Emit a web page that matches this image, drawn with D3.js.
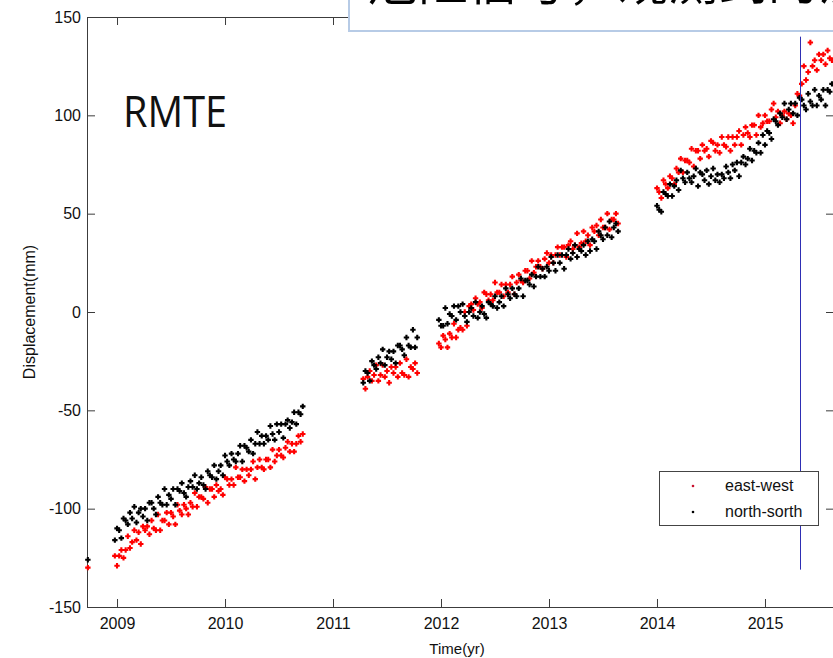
<!DOCTYPE html>
<html>
<head>
<meta charset="utf-8">
<script src="https://cdn.jsdelivr.net/npm/d3@7"></script>
<style>
  body { margin: 0; background: #fff; }
  svg { display: block; font-family: "Liberation Sans", Arial, sans-serif; }
</style>
</head>
<body>
<script>
// start year of each run of daily-ish samples, sample spacing in years
const segStart = [2008.98, 2011.28, 2011.98, 2014.00];
const step = 0.02;

// east-west displacement (mm), one array per run
const ewA = [-124,-129,-124,-121,-125,-121,-114,-120,-117,-111,
  -116,-112,-118,-109,-111,-109,-113,-106,-110,-111,
  -103,-111,-106,-106,-102,-108,-102,-104,-108,-98,
  -101,-103,-98,-100,-103,-97,-99,-92,-99,-94,
  -94,-95,-89,-97,-90,-90,-94,-88,-91,-90,
  -93,-84,-85,-88,-85,-88,-79,-84,-84,-80,
  -86,-80,-83,-80,-76,-85,-79,-75,-79,-80,
  -75,-75,-79,-70,-76,-73,-70,-73,-74,-69,
  -66,-71,-67,-71,-67,-63,-66,-62];
const ewB = [-34,-39,-33,-30,-35,-32,-27,-35,-32,-27,-33,-30,-36,-28,-31,-28,-33,-26,-31,-32,-24,-33,-28,-29,-26,-31];
const ewC = [-16,-18,-12,-14,-18,-11,-13,-6,-13,-9,
  -8,-9,0,-7,3,4,1,7,4,5,
  2,10,9,6,9,6,15,10,10,14,
  8,14,10,14,18,9,15,19,16,15,
  21,21,17,26,20,23,26,23,22,27,
  30,25,29,25,29,33,29,33,33,28,
  34,36,32,34,40,33,35,41,36,39,
  34,43,41,44,39,47,43,43,50,42,
  47,47,50,45];
const ewD = [63,61,58,67,65,63,69,68,65,73,
  71,78,71,77,77,76,83,74,82,82,
  78,85,82,83,79,87,86,82,85,81,
  89,85,84,89,82,89,85,89,92,85,
  90,94,91,89,95,95,90,100,94,96,
  100,97,97,103,106,99,102,96,100,102,
  98,101,100,96,105,111,110,116,125,118,
  122,137,125,128,123,131,128,131,126,133,
  129,128];

// north-south displacement (mm)
const nsA = [-116,-110,-111,-115,-105,-106,-108,-102,-105,-99,
  -107,-102,-100,-104,-100,-106,-97,-97,-100,-103,
  -94,-97,-98,-90,-98,-93,-95,-90,-98,-90,
  -91,-87,-92,-94,-89,-86,-89,-83,-90,-87,
  -84,-88,-90,-81,-83,-84,-78,-85,-81,-78,
  -83,-73,-76,-78,-72,-75,-76,-72,-68,-76,
  -68,-69,-71,-65,-72,-67,-61,-67,-63,-67,
  -63,-65,-58,-62,-65,-57,-61,-57,-64,-57,
  -55,-59,-56,-51,-57,-51,-52,-48];
const nsB = [-36,-30,-31,-35,-25,-27,-29,-23,-26,-19,-27,-23,-20,-24,-20,-26,-17,-17,-19,-22,-13,-17,-18,-9,-18,-13];
const nsC = [-4,-7,-7,2,-6,-1,-2,3,-4,3,
  0,4,-2,-5,0,2,-2,5,-3,0,
  3,-1,-3,5,4,3,8,2,5,8,
  3,12,9,7,12,9,8,12,17,8,
  16,16,14,19,13,18,23,18,22,18,
  23,21,28,25,21,29,25,29,22,29,
  32,27,30,34,28,32,31,34,29,36,
  31,37,36,32,41,39,37,43,39,46,
  38,43,45,41];
const nsD = [54,52,51,61,60,59,65,59,64,67,
  62,72,68,66,71,68,66,69,73,64,
  71,70,67,72,65,69,73,67,70,66,
  70,68,74,71,68,75,72,76,69,76,
  79,75,78,83,77,82,81,86,81,90,
  85,92,91,88,98,97,95,101,99,106,
  98,103,106,101,106,100,109,108,105,103,
  111,107,105,113,105,110,108,113,105,113,
  112,116];

// lone first sample at the left edge
const firstTime = 2008.73;
const ewFirst = -130;
const nsFirst = -126;

const xTicks = [2009, 2010, 2011, 2012, 2013, 2014, 2015];
const yTicks = [-150, -100, -50, 0, 50, 100, 150];
const seriesNames = ["east-west", "north-sorth"];
const seriesColors = ["#ff0000", "#000000"];
const legendDots = ["#c8102e", "#000000"];

// vertical marker line (event time, bottom and top in mm)
const eventTime = 2015.32;
const eventSpan = [-131, 140];

const w = 833, h = 658;
const plotL = 87, plotR = 834, plotT = 17, plotB = 607;

function buildPoints(firstVal, runs) {
  let pts = [{ t: firstTime, v: firstVal }];
  runs.forEach(function (vals, k) {
    vals.forEach(function (v, i) {
      pts.push({ t: segStart[k] + i * step, v: v });
    });
  });
  return pts;
}

const ewPts = buildPoints(ewFirst, [ewA, ewB, ewC, ewD]);
const nsPts = buildPoints(nsFirst, [nsA, nsB, nsC, nsD]);

const svg = d3.select("body")
  .append("svg")
  .attr("width", w)
  .attr("height", h);

const xScale = d3.scaleLinear()
  .domain([2008.722, 2015.639])
  .range([plotL, plotR]);

const yScale = d3.scaleLinear()
  .domain([-150, 150])
  .range([plotB, plotT]);

const axisColor = "#3c3c3c";
const plain = d => String(d);   // keep ascii hyphen for negatives

// axes, ticks pointing inward like matlab
svg.append("g")
  .attr("transform", "translate(0," + plotB + ")")
  .call(d3.axisBottom(xScale).tickValues(xTicks).tickFormat(plain)
    .tickSizeInner(-8).tickSizeOuter(0).tickPadding(11));

svg.append("g")
  .attr("transform", "translate(0," + plotT + ")")
  .call(d3.axisTop(xScale).tickValues(xTicks).tickFormat("")
    .tickSizeInner(-8).tickSizeOuter(0));

svg.append("g")
  .attr("transform", "translate(" + plotL + ",0)")
  .call(d3.axisLeft(yScale).tickValues(yTicks).tickFormat(plain)
    .tickSizeInner(-8).tickSizeOuter(0).tickPadding(6));

svg.append("g")
  .attr("transform", "translate(" + plotR + ",0)")
  .call(d3.axisRight(yScale).tickValues(yTicks).tickFormat("")
    .tickSizeInner(-8).tickSizeOuter(0));

svg.selectAll(".domain").remove();
svg.selectAll(".tick line").attr("stroke", axisColor);
svg.selectAll(".tick text")
  .attr("fill", "#111")
  .style("font-size", "16px");

svg.append("rect")
  .attr("x", plotL + 0.5)
  .attr("y", plotT + 0.5)
  .attr("width", plotR - plotL)
  .attr("height", plotB - plotT)
  .attr("fill", "none")
  .attr("stroke", axisColor);

// axis titles
svg.append("text")
  .attr("x", 457)
  .attr("y", 654)
  .attr("text-anchor", "middle")
  .style("font-size", "15px")
  .attr("fill", "#111")
  .text("Time(yr)");

svg.append("text")
  .attr("transform", "translate(35," + (plotT + plotB) / 2 + ") rotate(-90)")
  .attr("text-anchor", "middle")
  .style("font-size", "16px")
  .attr("fill", "#111")
  .text("Displacement(mm)");

// scatter points, east-west first so north-south sits on top
const cross = "M-2.7,0H2.7M0,-2.7V2.7";
[ewPts, nsPts].forEach(function (pts, k) {
  svg.append("g")
    .selectAll("path")
    .data(pts)
    .enter()
    .append("path")
    .attr("d", cross)
    .attr("transform", function (d) {
      return "translate(" + xScale(d.t) + "," + yScale(d.v) + ")";
    })
    .attr("stroke", seriesColors[k])
    .attr("stroke-width", 2.1)
    .attr("fill", "none");
});

// event line
const ex = Math.round(xScale(eventTime)) + 0.5;
svg.append("line")
  .attr("x1", ex)
  .attr("x2", ex)
  .attr("y1", yScale(eventSpan[0]))
  .attr("y2", yScale(eventSpan[1]))
  .attr("stroke", "#2e2eb4")
  .attr("stroke-width", 1);

// legend
const legend = svg.append("g").attr("transform", "translate(659,471)");
legend.append("rect")
  .attr("x", 0.5).attr("y", 0.5)
  .attr("width", 159).attr("height", 54)
  .attr("fill", "#fff")
  .attr("stroke", "#444");
seriesNames.forEach(function (name, i) {
  legend.append("circle")
    .attr("cx", 34).attr("cy", 15 + i * 26)
    .attr("r", 1.3)
    .attr("fill", legendDots[i]);
  legend.append("text")
    .attr("x", 66).attr("y", 20 + i * 26)
    .style("font-size", "16px")
    .attr("fill", "#111")
    .text(name);
});

// station name
svg.append("text")
  .attr("x", 123)
  .attr("y", 127)
  .style("font-family", "'Open Sans', sans-serif")
  .style("font-size", "44px")
  .attr("textLength", 104)
  .attr("lengthAdjust", "spacingAndGlyphs")
  .attr("fill", "#111")
  .text("RMTE");

// slide text box, its title runs off the top of the picture
svg.append("rect")
  .attr("x", 349)
  .attr("y", -20)
  .attr("width", 520)
  .attr("height", 51)
  .attr("fill", "#fff")
  .attr("stroke", "#b7cbe6")
  .attr("stroke-width", 2);

svg.append("text")
  .attr("x", 368)
  .attr("y", 0)
  .style("font-family", "'Noto Sans CJK SC', sans-serif")
  .style("font-size", "50px")
  .attr("fill", "#000")
  .text("危险信号，观测到的沉降");
</script>
</body>
</html>
